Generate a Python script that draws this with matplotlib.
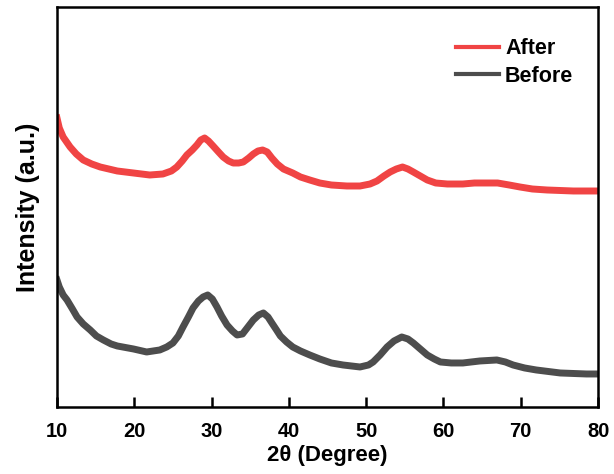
import matplotlib
matplotlib.use('Agg')
import matplotlib.pyplot as plt

plt.rcParams['font.family'] = ['Liberation Sans', 'DejaVu Sans']
plt.rcParams['font.weight'] = 'bold'

# 2theta positions and intensities (a.u.)
two_theta_after = [10.0, 10.3, 10.8, 11.7, 12.5, 13.4, 14.5, 15.6, 17.8, 19.9, 22.0, 23.7, 24.8,
                   25.5, 26.2, 26.8, 27.5, 28.1, 28.6, 29.1, 29.6, 30.2, 30.9, 31.5, 32.2, 32.8,
                   33.5, 34.1, 34.8, 35.4, 36.0, 36.6, 37.2, 37.8, 38.5, 39.3, 40.5, 41.5, 42.7,
                   44.0, 45.5, 47.5, 49.2, 50.5, 51.4, 52.3, 53.1, 53.9, 54.7, 55.4, 56.1, 57.0,
                   57.9, 59.0, 60.5, 62.5, 64.0, 65.6, 67.0, 68.5, 69.9, 71.5, 73.4, 76.8, 80.0]
after = [289, 279, 270, 260, 253, 247, 243, 240, 236, 234, 232, 233, 236,
         240, 246, 252, 257, 262, 267, 269, 266, 261, 255, 250, 246, 244,
         244, 245, 249, 253, 256, 257, 255, 249, 243, 238, 234, 230, 227,
         224, 222, 221, 221, 223, 226, 231, 235, 238, 240, 238, 235, 231,
         227, 224, 223, 223, 224, 224, 224, 222, 220, 218, 217, 216, 216]

two_theta_before = [10.0, 10.3, 10.8, 11.3, 12.0, 12.6, 13.4, 14.3, 15.1, 16.0, 17.0, 17.8, 19.9,
                    21.6, 23.3, 24.2, 25.0, 25.7, 26.3, 27.0, 27.6, 28.3, 28.9, 29.5, 30.1, 30.7,
                    31.3, 32.0, 32.7, 33.3, 34.0, 34.7, 35.4, 36.1, 36.7, 37.3, 37.8, 38.4, 38.9,
                    39.7, 40.5, 41.5, 42.7, 44.0, 45.5, 47.0, 49.2, 50.3, 50.9, 51.8, 52.7, 53.6,
                    54.6, 55.4, 56.1, 57.0, 57.9, 58.8, 59.6, 61.0, 62.5, 64.7, 66.9, 68.0, 69.0,
                    70.5, 72.0, 75.1, 78.5, 80.0]
before = [127, 120, 112, 107, 98, 90, 83, 77, 71, 67, 63, 61, 58,
          55, 57, 60, 64, 71, 80, 90, 99, 106, 110, 112, 108, 100,
          91, 82, 76, 72, 73, 80, 87, 92, 94, 90, 84, 77, 71,
          65, 60, 56, 52, 48, 44, 42, 40, 42, 45, 52, 60, 66,
          70, 68, 64, 58, 52, 48, 45, 44, 44, 46, 47, 45, 42,
          39, 37, 34, 33, 33]

fig = plt.figure(figsize=(6.14, 4.74), dpi=100)
ax = fig.add_axes([0.0928, 0.1414, 0.8813, 0.8438])

ax.plot(two_theta_after, after, color='#F04444', linewidth=5, label='After')
ax.plot(two_theta_before, before, color='#4D4D4D', linewidth=5, label='Before')

ax.set_xlim(10, 80)
ax.set_ylim(0, 400)
ax.set_xticks([10, 20, 30, 40, 50, 60, 70, 80])
ax.set_yticks([])
ax.tick_params(axis='x', direction='in', length=7, width=1.8, labelsize=14.5, pad=11)
for s in ax.spines.values():
    s.set_linewidth(1.8)

ax.set_xlabel('2\u03b8 (Degree)', fontsize=16, fontweight='bold', labelpad=3)
ax.set_ylabel('Intensity (a.u.)', fontsize=18, fontweight='bold', labelpad=12)

leg = ax.legend(loc='upper right', bbox_to_anchor=(0.99, 0.97), frameon=False,
                fontsize=15.5, handlelength=2.0, handletextpad=0.3, labelspacing=0.3)
for line in leg.get_lines():
    line.set_linewidth(3)

fig.savefig('out.png', dpi=100)
